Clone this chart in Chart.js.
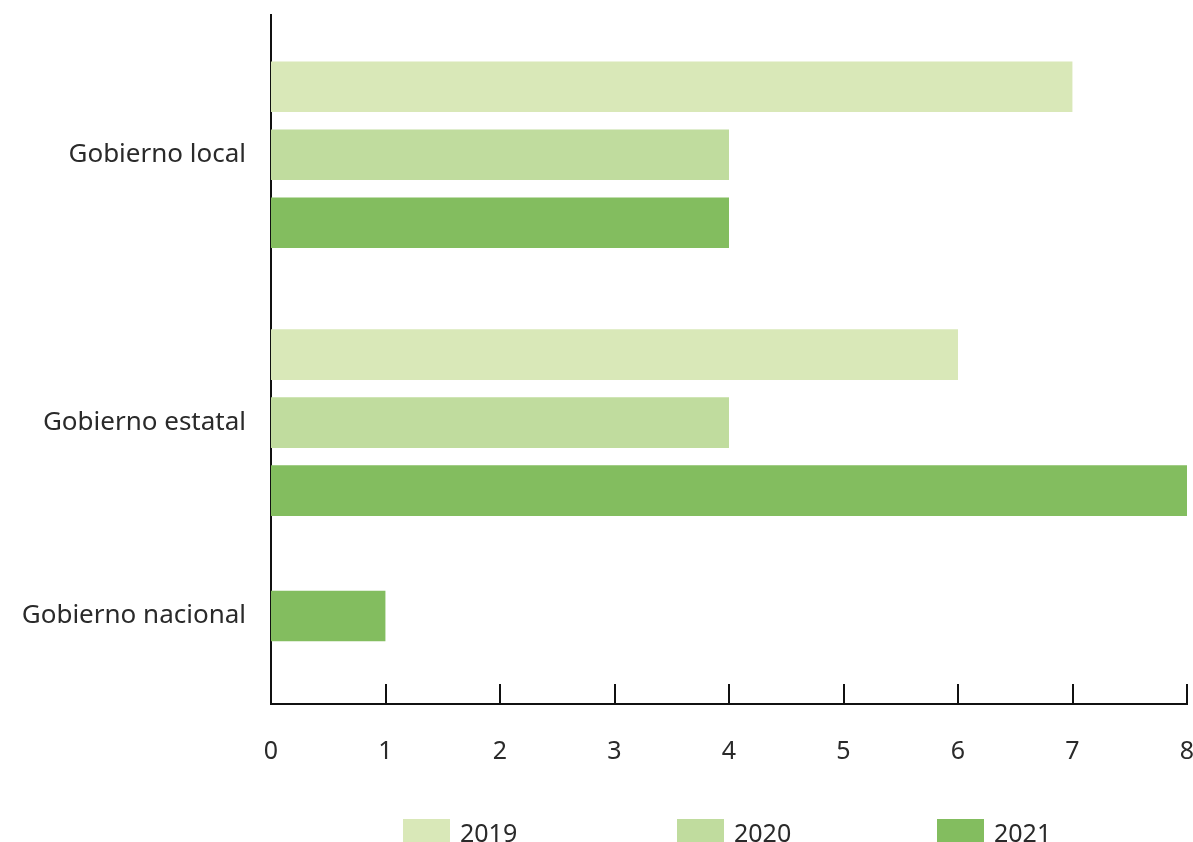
<!DOCTYPE html>
<html lang="es">
<head>
<meta charset="utf-8">
<title>Gobierno local / estatal / nacional</title>
<script src="https://cdn.jsdelivr.net/npm/chart.js@4/dist/chart.umd.min.js"></script>
<style>
  html, body { margin: 0; padding: 0; background: #fff; overflow: hidden; }
  #wrap { position: relative; width: 1193px; height: 842px; }
  #legend {
    position: absolute; left: 0; top: 815px; width: 1193px;
    font-family: "Noto Sans", sans-serif; font-size: 25px; color: #2a2a2a;
  }
  .legend-item { position: absolute; display: flex; align-items: center; }
  .legend-box { width: 47px; height: 27px; margin-right: 10px; }
</style>
</head>
<body>
<div id="wrap">
  <canvas id="govChart" width="1193" height="842"></canvas>
  <div id="legend"></div>
</div>
<script>
// ==========================================
// DATA
// ==========================================

const categories = ["Gobierno local", "Gobierno estatal", "Gobierno nacional"];
// row centres on the (linear) category axis, the groups are not evenly spaced
const rowPositions = [3.65, 10.65, 15.7];

const years = ["2019", "2020", "2021"];
const values2019 = [7, 6, null];
const values2020 = [4, 4, null];
const values2021 = [4, 8, 1];

const xTickValues = [0, 1, 2, 3, 4, 5, 6, 7, 8];

const yearColors = ["#d9e8b8", "#c0dc9e", "#83bd5f"];

// ==========================================
// CHART
// ==========================================

function toPoints(values) {
  return values.map((v, i) => ({ x: v, y: rowPositions[i] }));
}

// little tick marks pointing up from the x axis line
const innerTicks = {
  id: "innerTicks",
  afterDraw(chart) {
    const ctx = chart.ctx;
    const xScale = chart.scales.x;
    const bottom = chart.chartArea.bottom;
    ctx.save();
    ctx.strokeStyle = "#111";
    ctx.lineWidth = 2;
    xTickValues.forEach((v) => {
      if (v === 0) return;
      const px = Math.round(xScale.getPixelForValue(v));
      ctx.beginPath();
      ctx.moveTo(px, bottom);
      ctx.lineTo(px, bottom - 20);
      ctx.stroke();
    });
    ctx.restore();
  },
};

function initChart() {
  const allValues = [values2019, values2020, values2021];

  const datasets = years.map((year, i) => ({
    label: year,
    data: toPoints(allValues[i]),
    backgroundColor: yearColors[i],
    borderColor: "rgba(0,0,0,0)",
    borderWidth: { top: 9, bottom: 9, left: 0, right: 0 },
    borderSkipped: "start",
    barThickness: 68,
    skipNull: true,
  }));

  new Chart(document.getElementById("govChart").getContext("2d"), {
    type: "bar",
    data: { datasets: datasets },
    plugins: [innerTicks],
    options: {
      indexAxis: "y",
      responsive: false,
      animation: false,
      layout: { padding: { top: 15, right: 6, bottom: 42, left: 0 } },
      plugins: {
        legend: { display: false },
        tooltip: { enabled: false },
      },
      scales: {
        x: {
          type: "linear",
          min: 0,
          max: 8,
          afterBuildTicks: (scale) => {
            scale.ticks = xTickValues.map((v) => ({ value: v }));
          },
          afterFit: (scale) => {
            scale.paddingLeft = 0;
            scale.paddingRight = 0;
          },
          grid: { display: false, drawTicks: false },
          border: { display: true, color: "#111", width: 2 },
          ticks: {
            padding: 33,
            color: "#2a2a2a",
            font: { family: "Noto Sans", size: 25 },
          },
        },
        y: {
          type: "linear",
          offset: false,
          reverse: true,
          min: 0,
          max: 18,
          afterBuildTicks: (scale) => {
            scale.ticks = rowPositions.map((v) => ({ value: v }));
          },
          afterFit: (scale) => {
            scale.width = 271;
            scale.paddingTop = 0;
            scale.paddingBottom = 0;
          },
          grid: { display: false, drawTicks: false, offset: false },
          border: { display: true, color: "#111", width: 2 },
          ticks: {
            padding: 25,
            color: "#2a2a2a",
            font: { family: "Noto Sans", size: 26 },
            callback: (value, index) => categories[index],
          },
        },
      },
    },
  });
}

function buildLegend() {
  const legend = document.getElementById("legend");
  const lefts = [403, 677, 937];
  years.forEach((year, i) => {
    const item = document.createElement("div");
    item.className = "legend-item";
    item.style.left = lefts[i] + "px";
    const box = document.createElement("span");
    box.className = "legend-box";
    box.style.background = yearColors[i];
    const txt = document.createElement("span");
    txt.textContent = year;
    item.appendChild(box);
    item.appendChild(txt);
    legend.appendChild(item);
  });
}

document.addEventListener("DOMContentLoaded", function () {
  initChart();
  buildLegend();
});
</script>
</body>
</html>
